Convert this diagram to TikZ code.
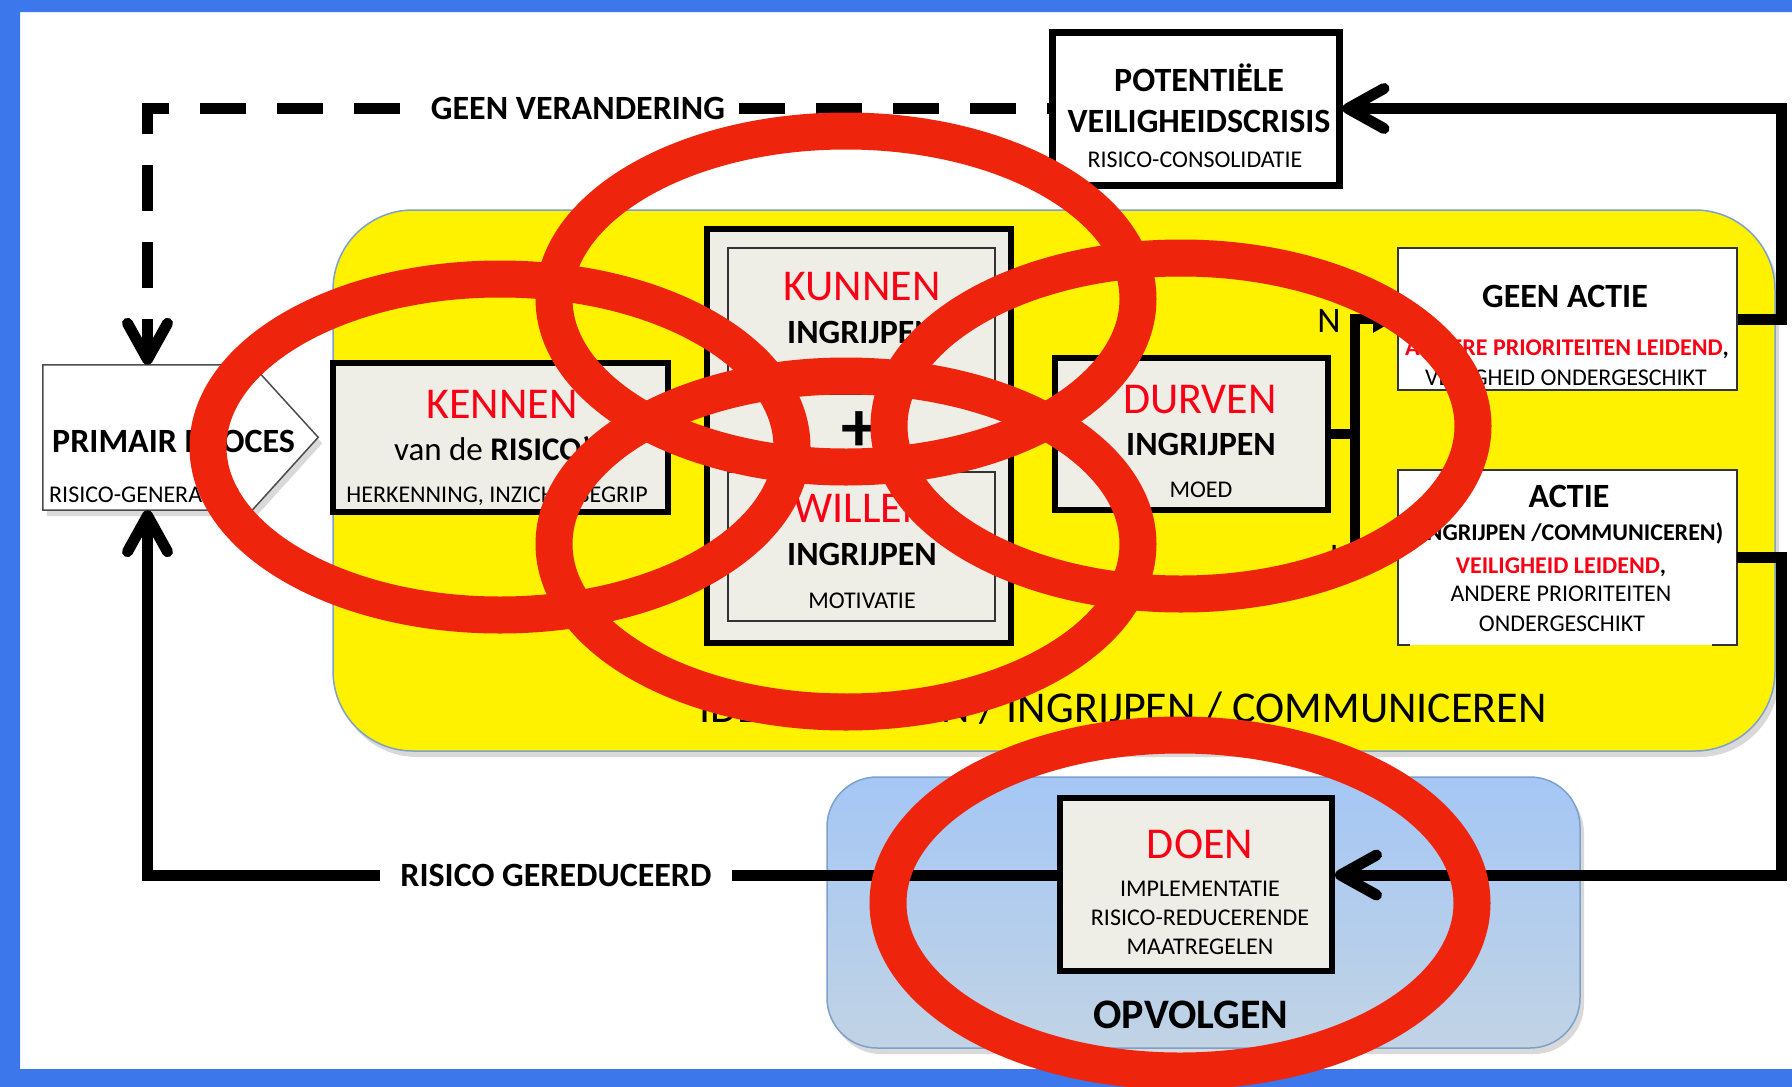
\documentclass[tikz,border=0pt]{standalone}
\usepackage{fontspec}
\setmainfont{Carlito}
\usetikzlibrary{arrows.meta,shadows}

\definecolor{frameblue}{RGB}{60,120,235}
\definecolor{ringred}{RGB}{238,36,12}
\definecolor{txtred}{RGB}{250,0,20}
\definecolor{boxfill}{RGB}{239,238,230}
\definecolor{opvtop}{RGB}{165,199,245}
\definecolor{opvbot}{RGB}{193,211,229}
\definecolor{rimblue}{RGB}{125,160,205}

\newcommand\titlefont{\fontsize{44}{48}\selectfont}
\newcommand\headfont{\fontsize{34}{38}\selectfont\bfseries}
\newcommand\midfont{\fontsize{33}{36}\selectfont}
\newcommand\smallfont{\fontsize{24}{28}\selectfont}

\begin{document}
\begin{tikzpicture}[x=1pt, y=-1pt,
  box/.style={draw, line width=6pt, fill=boxfill, inner sep=0pt},
  thinbox/.style={draw=black!80, line width=2pt, inner sep=0pt},
  txt/.style={anchor=base, inner sep=0pt},
  flow/.style={line width=11pt},
  barb/.style={-{Straight Barb[length=36pt, width=40pt, round]}},
  shade/.style={drop shadow={shadow xshift=4pt, shadow yshift=-6pt, opacity=0.3}},
  ring/.style={draw=ringred, line width=37pt}]

\useasboundingbox (0,0) rectangle (1792,1087);
\fill[frameblue] (0,0) rectangle (1792,12) (0,0) rectangle (20,1087) (0,1069) rectangle (1792,1087);

% panels
\node[draw=rimblue, line width=1.5pt, fill=yellow, rounded corners=80pt, shade,
  minimum width=1442pt, minimum height=541pt] (ident) at (1054,480.5) {};
\node[draw=rimblue, line width=1.5pt, top color=opvtop, bottom color=opvbot, rounded corners=50pt, shade,
  minimum width=753pt, minimum height=271pt] (opvolgen) at (1203.5,912.5) {};

% boxes
\node[minimum width=209pt, minimum height=145pt, inner sep=0pt] (primair) at (147.5,437.5) {};
\draw[draw=black!70, line width=1.5pt, fill=white, shade] (primair.north west) -- (primair.north east)
  -- ++(66,72.5) -- (primair.south east) -- (primair.south west) -- cycle;
\node[box, minimum width=335pt, minimum height=149pt] (kennen) at (500.5,437.5) {};
\node[box, minimum width=304pt, minimum height=414pt] (kunwil) at (859,436) {};
\node[thinbox, minimum width=267pt, minimum height=146pt] (kunnen) at (861.5,321) {};
\node[thinbox, minimum width=267pt, minimum height=149pt] (willen) at (861.5,546.5) {};
\node[box, minimum width=273pt, minimum height=152pt] (durven) at (1191.5,434) {};
\node[box, line width=7pt, fill=white, minimum width=287pt, minimum height=153pt] (potentiele) at (1195.5,108.5) {};
\node[thinbox, fill=white, minimum width=339pt, minimum height=142pt] (geenactie) at (1567.5,319) {};
\node[fill=white, minimum width=339pt, minimum height=175pt, inner sep=0pt] (actie) at (1567.5,557.5) {};
\draw[thinbox] ([xshift=12pt]actie.south west) -- (actie.south west) |- (actie.north east)
  -- (actie.south east) -- ++(-25,0);
\node[box, minimum width=272pt, minimum height=173pt] (doen) at (1196,884.5) {};

% connectors
\draw[flow, barb, dash pattern=on 46pt off 31pt, dash phase=44pt] (potentiele.west) -| (primair.north);
\draw[flow, barb] ([yshift=9.5pt]doen.west) -| (primair.south);
\draw[flow, barb] (geenactie.east) -- ++(43,0) |- (potentiele.east);
\draw[flow, barb] (actie.east) -- ++(44,0) |- ([yshift=9.5pt]doen.east);
\draw[line width=10pt] (durven.east) -- ++(24,0) coordinate (split);
\draw[line width=10pt, -{Triangle[length=24pt, width=26pt]}] (split) |- (geenactie.west);
\draw[line width=10pt, -{Triangle[length=24pt, width=26pt]}] (split) |- ([yshift=11.5pt]actie.west);

% texts
\node[txt, font=\headfont, fill=white, inner xsep=12pt, inner ysep=4pt] (geenverT) at (578,119) {GEEN VERANDERING};
\node[txt, font=\headfont, fill=white, inner xsep=20pt, inner ysep=5pt] (risredT) at (556,886) {RISICO GEREDUCEERD};

\node[txt, font=\headfont] (potT1) at (1199,91) {POTENTIËLE};
\node[txt, font=\headfont] (potT2) at (1199,132) {VEILIGHEIDSCRISIS};
\node[txt, font=\smallfont] (potT3) at (1195,167) {RISICO-CONSOLIDATIE};

\node[txt, anchor=base west, font=\headfont] (primT1) at (52,452) {PRIMAIR PROCES};
\node[txt, anchor=base west, font=\smallfont] (primT2) at (49,502) {RISICO-GENERATOR};

\node[txt, font=\titlefont, text=txtred] (kennenT1) at (502,418) {KENNEN};
\node[txt, font=\midfont] (kennenT2) at (500,460) {van de \textbf{RISICO’S}};
\node[txt, font=\smallfont] (kennenT3) at (497,502) {HERKENNING, INZICHT, BEGRIP};

\node[txt, font=\titlefont, text=txtred] (kunnenT1) at (862,300) {KUNNEN};
\node[txt, font=\headfont] (kunnenT2) at (862,343) {INGRIJPEN};
\node[font=\fontsize{72}{72}\selectfont\bfseries, inner sep=0pt] (plus) at (859,432) {+};
\node[txt, font=\titlefont, text=txtred] (willenT1) at (862,522) {WILLEN};
\node[txt, font=\headfont] (willenT2) at (862,565) {INGRIJPEN};
\node[txt, font=\smallfont] (willenT3) at (862,608) {MOTIVATIE};

\node[txt, font=\titlefont, text=txtred] (durvenT1) at (1200,413) {DURVEN};
\node[txt, font=\headfont] (durvenT2) at (1201,455) {INGRIJPEN};
\node[txt, font=\smallfont] (durvenT3) at (1201,497) {MOED};
\node[txt, font=\fontsize{36}{40}\selectfont] (nee) at (1329,332) {N};
\node[txt, font=\fontsize{36}{40}\selectfont] (ja) at (1332,568) {J};

\node[txt, font=\headfont] (geenT1) at (1565,307) {GEEN ACTIE};
\node[txt, font=\smallfont\bfseries] (geenT2) at (1567,355) {\textcolor{txtred}{ANDERE PRIORITEITEN LEIDEND},};
\node[txt, font=\smallfont] (geenT3) at (1566,385) {VEILIGHEID ONDERGESCHIKT};

\node[txt, font=\headfont] (actieT1) at (1569,507) {ACTIE};
\node[txt, font=\smallfont\bfseries] (actieT2) at (1568,540) {(INGRIJPEN /COMMUNICEREN)};
\node[txt, font=\smallfont\bfseries] (actieT3) at (1561,573) {\textcolor{txtred}{VEILIGHEID LEIDEND},};
\node[txt, font=\smallfont] (actieT4) at (1561,601) {ANDERE PRIORITEITEN};
\node[txt, font=\smallfont] (actieT5) at (1562,631) {ONDERGESCHIKT};

\node[txt, font=\titlefont] (identT) at (1123,722) {IDENTIFICEREN / INGRIJPEN / COMMUNICEREN};

\node[txt, font=\titlefont, text=txtred] (doenT1) at (1200,858) {DOEN};
\node[txt, font=\smallfont] (doenT2) at (1200,896) {IMPLEMENTATIE};
\node[txt, font=\smallfont] (doenT3) at (1200,925) {RISICO-REDUCERENDE};
\node[txt, font=\smallfont] (doenT4) at (1200,954) {MAATREGELEN};
\node[txt, font=\fontsize{42}{46}\selectfont\bfseries] (opvolgenT) at (1191,1028) {OPVOLGEN};

% rings on top
\foreach \cx/\cy in {846/299, 500/447, 1181/426, 846/544, 1180/903}
  \draw[ring] (\cx,\cy) ellipse [x radius=292, y radius=168];

\end{tikzpicture}
\end{document}
